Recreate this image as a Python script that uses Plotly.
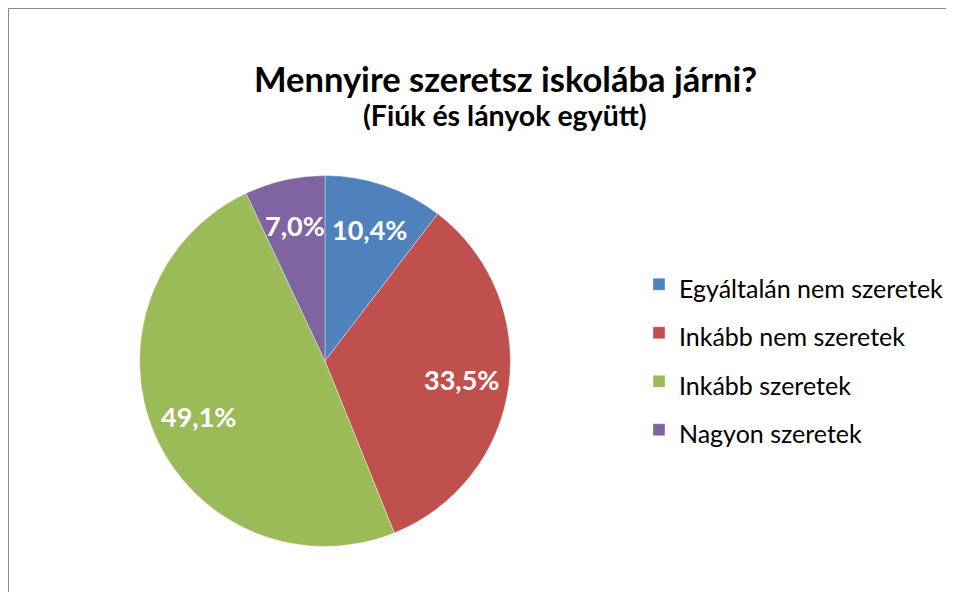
import math
import plotly.graph_objects as go

categories = ["Egyáltalán nem szeretek", "Inkább nem szeretek", "Inkább szeretek", "Nagyon szeretek"]
values = [10.4, 33.5, 49.1, 7.0]
colors = ["#4F81BD", "#C0504D", "#9BBB59", "#8064A2"]
title_text = "Mennyire szeretsz iskolába járni?"
subtitle_text = "(Fiúk és lányok együtt)"

# page has an 8px body margin, so the figure is sized to fit inside the 957x600 window
W, H = 941, 584
FONT = "Lato"

legend_labels = [f"<span style='font-size:25px'>{c}</span>" for c in categories]

cx, cy, r = 318, 353, 186
label_frac = 0.745

fig = go.Figure(go.Pie(
    labels=legend_labels,
    values=values,
    sort=False,
    direction="clockwise",
    rotation=0,
    marker=dict(colors=colors, line=dict(color="rgba(255,255,255,0.6)", width=0.6)),
    textinfo="none",
    hoverinfo="skip",
    domain=dict(x=[(cx - r) / W, (cx + r) / W], y=[1 - (cy + r) / H, 1 - (cy - r) / H]),
))

# data labels placed at the middle angle of each slice
annotations = []
total = sum(values)
cum = 0.0
for v in values:
    mid = (cum + v / 2) / total * 2 * math.pi
    cum += v
    px = cx + label_frac * r * math.sin(mid)
    py = cy - label_frac * r * math.cos(mid)
    annotations.append(dict(
        text="<b>" + f"{v:.1f}".replace(".", ",") + "%</b>",
        x=px / W, y=1 - py / H, xref="paper", yref="paper", showarrow=False,
        xanchor="center", yanchor="middle",
        font=dict(family=FONT, size=27, color="white"),
    ))

annotations += [
    dict(text=f"<b>{title_text}</b>", x=499 / W, y=1 - 70 / H, xref="paper", yref="paper",
         showarrow=False, font=dict(family=FONT, size=34.5, color="black"), xanchor="center", yanchor="middle"),
    dict(text=f"<b>{subtitle_text}</b>", x=499 / W, y=1 - 107 / H, xref="paper", yref="paper",
         showarrow=False, font=dict(family=FONT, size=28.5, color="black"), xanchor="center", yanchor="middle"),
]

fig.update_layout(
    width=W, height=H,
    margin=dict(l=0, r=0, t=0, b=0),
    paper_bgcolor="white",
    font=dict(family=FONT, color="black"),
    showlegend=True,
    legend=dict(
        x=633 / W, y=1 - 247 / H, xanchor="left", yanchor="top",
        font=dict(family=FONT, size=35, color="black"),
        bgcolor="rgba(0,0,0,0)",
    ),
    annotations=annotations,
    shapes=[
        dict(type="line", xref="paper", yref="paper", x0=0, x1=1.0, y0=1, y1=1,
             line=dict(color="#8C8C8C", width=2)),
        dict(type="line", xref="paper", yref="paper", x0=0, x1=0, y0=0, y1=1,
             line=dict(color="#8C8C8C", width=2)),
    ],
)

fig.write_html("out.html", config={"displayModeBar": False})
